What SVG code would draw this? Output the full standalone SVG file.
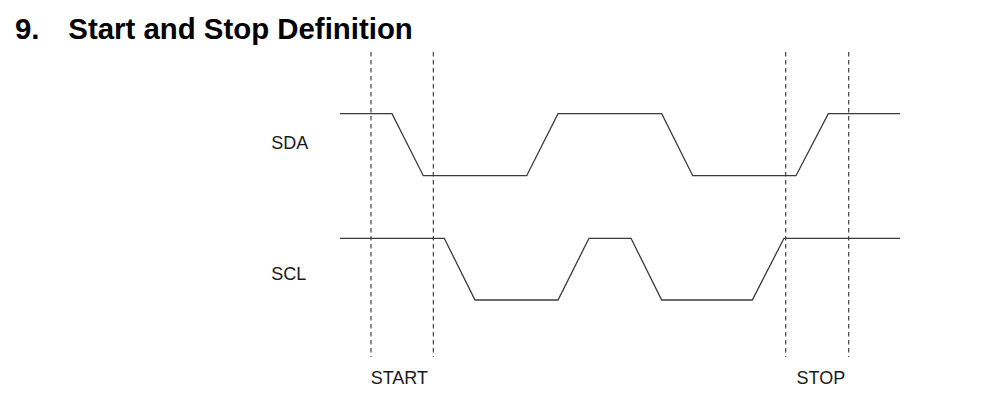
<svg xmlns="http://www.w3.org/2000/svg" width="984" height="406" viewBox="0 0 984 406">
<style>
.bg{fill:#ffffff}
.title{font-family:"Liberation Sans",Arial,sans-serif;font-weight:bold;font-size:29.4px;fill:#000}
.lbl{font-family:"Liberation Sans",Arial,sans-serif;font-size:18px;fill:#1a1a1a}
.sig{fill:none;stroke:#3a3a3a;stroke-width:1.3;stroke-linejoin:miter}
.dash{fill:none;stroke:#333;stroke-width:1.1;stroke-dasharray:4.5 3.5}
</style>
<rect class="bg" x="0" y="0" width="984" height="406"/>
<text class="title" x="15" y="38.5">9.</text>
<text class="title" x="68.3" y="38.5">Start and Stop Definition</text>
<g id="markers">
<line class="dash" x1="371" y1="52" x2="371" y2="357"/>
<line class="dash" x1="433.3" y1="52" x2="433.3" y2="357"/>
<line class="dash" x1="785.7" y1="52" x2="785.7" y2="357"/>
<line class="dash" x1="848.7" y1="52" x2="848.7" y2="357"/>
</g>
<g id="sda">
<text class="lbl" x="271.3" y="149.3">SDA</text>
<polyline class="sig" points="340,113.7 392,113.7 423.3,175.7 526.7,175.7 558,113.7 661.7,113.7 692.7,175.7 796,175.7 828.3,113.7 900,113.7"/>
</g>
<g id="scl">
<text class="lbl" x="271.3" y="280.3">SCL</text>
<polyline class="sig" points="340,238.3 444.3,238.3 475,300 558,300 589,238.3 631,238.3 661.7,300 752.3,300 784,238.3 900,238.3"/>
</g>
<g id="start">
<text class="lbl" x="370.7" y="384.3">START</text>
</g>
<g id="stop">
<text class="lbl" x="796.5" y="384.3">STOP</text>
</g>
</svg>
